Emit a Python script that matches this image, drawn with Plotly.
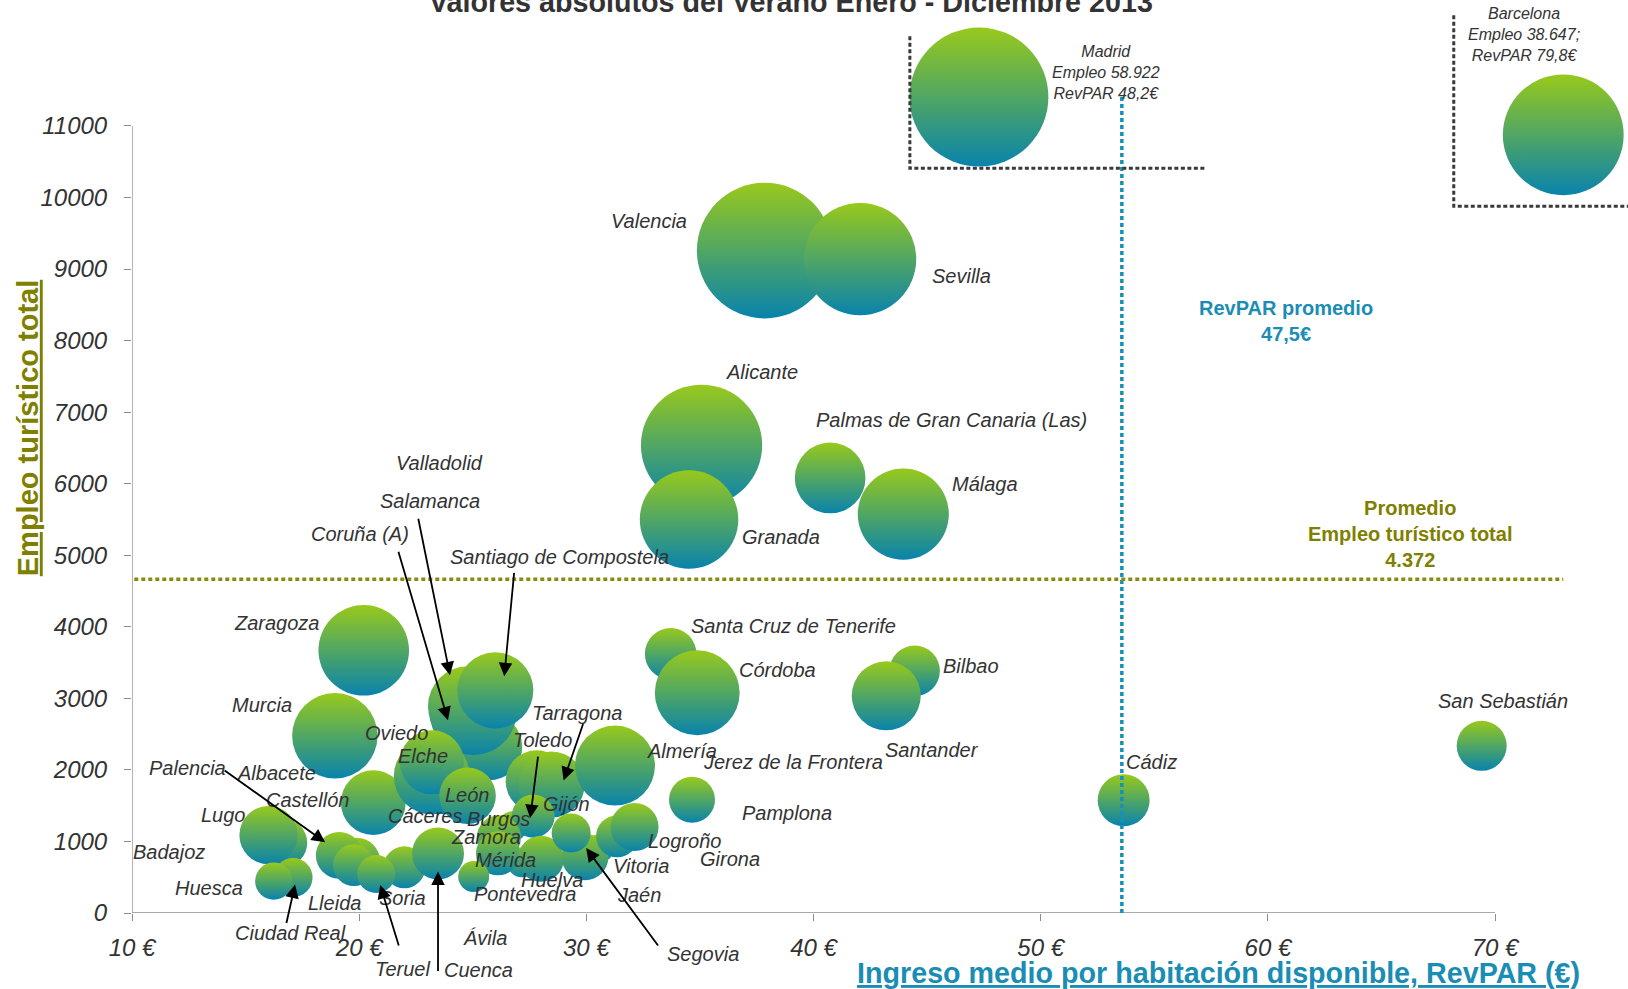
import numpy as np
import plotly.graph_objects as go

# ---------------- DATA (draw order: back to front) ----------------
ciudades = [
    "Madrid", "Barcelona", "Valencia", "Sevilla", "Alicante", "Granada",
    "Palmas de Gran Canaria (Las)", "Málaga", "Bilbao", "Santander",
    "Santa Cruz de Tenerife", "Córdoba", "Zaragoza", "Murcia", "Castellón",
    "Salamanca", "Valladolid", "Coruña (A)", "Santiago de Compostela",
    "Cáceres", "Oviedo", "Elche", "León", "Jerez de la Frontera", "Gijón",
    "Tarragona", "Almería", "Burgos", "Toledo", "Pontevedra", "Zamora",
    "Mérida", "Huelva", "Girona", "Jaén", "Segovia", "Vitoria", "Logroño",
    "Pamplona", "Badajoz", "Lugo", "Ciudad Real", "Huesca", "Albacete",
    "Palencia", "Lleida", "Soria", "Teruel", "Cuenca", "Ávila", "Cádiz",
    "San Sebastián",
]
# RevPAR (EUR) as plotted
revpar = [
    47.28, 73.0, 37.85, 42.05, 35.07, 34.52,
    40.73, 43.95, 44.45, 43.2,
    33.71, 34.88, 20.2, 18.93, 20.62,
    24.79, 25.7, 25.01, 25.99,
    23.78, 23.2, 23.2, 24.77, 31.13, 27.81,
    28.47, 31.26, 26.74, 27.66, 27.17, 26.15,
    26.11, 28.0, 30.6, 29.94, 29.33, 31.35, 32.12,
    34.65, 16.66, 16.01, 17.09, 16.24, 19.89,
    19.12, 19.77, 21.99, 20.75, 23.47, 25.04, 53.65,
    69.41,
]
# Empleo turístico total as plotted
empleo = [
    11404, 10876, 9258, 9139, 6537, 5500,
    6080, 5575, 3385, 3036,
    3623, 3078, 3671, 2477, 1543,
    2889, 2323, 2819, 3112,
    1687, 1911, 2106, 1638, 2022, 1841,
    1796, 2060, 1212, 1354, 709, 1058,
    834, 757, 904, 783, 1117, 1072, 1202,
    1582, 981, 1089, 496, 446, 723,
    806, 669, 639, 544, 832, 509, 1575,
    2337,
]
# relative bubble magnitude (area units)
tamano = [
    193, 146, 184, 126, 147, 97,
    50, 83, 25.5, 47.6,
    26.6, 72, 82, 73, 42,
    64, 45, 77, 58,
    19.4, 58, 41, 32, 36, 38.4,
    43.6, 64, 9, 18.5, 9, 19.4,
    19.4, 21.2, 7.8, 21.8, 15.2, 17.6, 23,
    21.2, 23, 34, 15.2, 13.9, 22,
    21.8, 17.4, 17.6, 14.4, 27, 9.6, 27,
    25,
]

ticks_x = [10, 20, 30, 40, 50, 60, 70]
ticks_x_text = ["10 €", "20 €", "30 €", "40 €", "50 €", "60 €", "70 €"]
ticks_y = list(range(0, 11001, 1000))
ticks_y_text = [str(v) for v in ticks_y]

# reference lines as drawn in the chart
linea_revpar = 53.57
linea_empleo = 4664
texto_revpar = "RevPAR promedio<br>47,5€"
texto_empleo = "Promedio<br>Empleo turístico total<br>4.372"
texto_madrid = "Madrid<br>Empleo 58.922<br>RevPAR 48,2€"
texto_barcelona = "Barcelona<br>Empleo 38.647;<br>RevPAR 79,8€"

# ---------------- STYLE ----------------
FONT = "Liberation Sans, Arial, Helvetica, sans-serif"
TXT = "#333333"
OLIVA = "#808000"
OLIVA_LINEA = "#8A8A10"
AZUL = "#1A8DB5"
AZUL_LINEA = "#1590BA"
VERDE = "#98C91B"
AZUL_BURBUJA = "#0983AC"
EJE = "#8c8c8c"

# label offsets (pixels) from bubble centre: dx, dy (dy positive = down)
etiquetas = {
    "Valencia": (-116, -30), "Sevilla": (101, 17), "Alicante": (60, -73),
    "Granada": (92, 18), "Palmas de Gran Canaria (Las)": (121, -58),
    "Málaga": (82, -30), "Bilbao": (56, -5), "Santander": (46, 54),
    "Santa Cruz de Tenerife": (123, -28), "Córdoba": (80, -23),
    "Zaragoza": (-87, -27), "Murcia": (-73, -31), "Castellón": (-66, -3),
    "Salamanca": (-38, -205), "Valladolid": (-49, -284),
    "Coruña (A)": (-113, -177), "Santiago de Compostela": (64, -133),
    "Cáceres": (-20, 24), "Oviedo": (-35, -43), "Elche": (-9, -6),
    "León": (0, -1), "Jerez de la Frontera": (181, -6), "Gijón": (30, 23),
    "Tarragona": (25, -71), "Almería": (67, -15), "Burgos": (-14, -7),
    "Toledo": (9, -76), "Pontevedra": (3, 32), "Zamora": (-13, 0),
    "Mérida": (8, 7), "Huelva": (11, 21), "Girona": (130, 11),
    "Jaén": (54, 38), "Segovia": (132, 121), "Vitoria": (24, 30),
    "Logroño": (50, 14), "Pamplona": (95, 13), "Badajoz": (-114, 9),
    "Lugo": (-45, -20), "Ciudad Real": (-3, 55), "Huesca": (-65, 7),
    "Albacete": (-80, -88), "Palencia": (-152, -87), "Lleida": (-19, 38),
    "Soria": (-2, 31), "Teruel": (26, 95), "Cuenca": (40, 117),
    "Ávila": (11, 61), "Cádiz": (28, -38), "San Sebastián": (21, -45),
}
# arrows: tip offset from bubble centre (dx, dy) and tail offset from tip (ax, ay)
flechas = {
    "Salamanca": (-18, -31, -32, -158),
    "Coruña (A)": (-25, 9, -50, -170),
    "Santiago de Compostela": (9, -14, 10, -105),
    "Tarragona": (12, -4, 20, -58),
    "Toledo": (-3, 2, 8, -63),
    "Palencia": (-14, -13, -102, -73),
    "Ciudad Real": (2, 7, -9, 40),
    "Teruel": (4, 11, 19, 62),
    "Cuenca": (0, 18, 0, 101),
    "Segovia": (15, 15, 73, 99),
}

diametro = np.sqrt(np.array(tamano, dtype=float)) * 10.0

fig = go.Figure()
fig.add_trace(go.Scatter(
    x=revpar, y=empleo, mode="markers", text=ciudades, hoverinfo="text",
    cliponaxis=False, showlegend=False,
    marker=dict(size=diametro, sizemode="diameter", color=VERDE, opacity=1,
                gradient=dict(type="vertical", color=AZUL_BURBUJA),
                line=dict(width=0)),
))

shapes = []
# axis lines (only up to 70 € and 11000)
shapes.append(dict(type="line", xref="x", yref="y", x0=ticks_x[0], x1=ticks_x[-1],
                   y0=0, y1=0, line=dict(color=EJE, width=1.3), layer="below"))
shapes.append(dict(type="line", xref="x", yref="y", x0=ticks_x[0], x1=ticks_x[0],
                   y0=0, y1=ticks_y[-1], line=dict(color=EJE, width=1.3), layer="below"))
# average lines
i_mad = ciudades.index("Madrid")
i_bcn = ciudades.index("Barcelona")
shapes.append(dict(type="line", xref="x", yref="y", x0=linea_revpar, x1=linea_revpar,
                   y0=0, y1=empleo[i_mad], line=dict(color=AZUL_LINEA, width=3.5, dash="4px,3px")))
shapes.append(dict(type="line", xref="x", yref="y", x0=10.1, x1=73.0,
                   y0=linea_empleo, y1=linea_empleo,
                   line=dict(color=OLIVA_LINEA, width=3.5, dash="4px,3px")))
# inset boxes (Madrid, Barcelona)
caja = dict(color="#3a3a3a", width=3, dash="4px,2.5px")
shapes.append(dict(type="path", xref="x", yref="y",
                   path="M 44.24,12253 L 44.24,10408 L 57.29,10408",
                   line=caja))
shapes.append(dict(type="path", xref="x", yref="y",
                   path="M 68.18,12546 L 68.18,9877 L 76.5,9877",
                   line=caja))

ann = []
# bubble labels
for i, c in enumerate(ciudades):
    if c in etiquetas:
        dx, dy = etiquetas[c]
        ann.append(dict(x=revpar[i], y=empleo[i], xref="x", yref="y", text=c,
                        showarrow=False, xshift=dx, yshift=-dy,
                        xanchor="center", yanchor="middle",
                        font=dict(family=FONT, size=20, color=TXT, style="italic")))
    if c in flechas:
        tdx, tdy, ax, ay = flechas[c]
        ann.append(dict(x=revpar[i], y=empleo[i], xref="x", yref="y", text="",
                        showarrow=True, xshift=tdx, yshift=-tdy, ax=ax, ay=ay,
                        arrowhead=2, arrowsize=1.5, arrowwidth=1.8,
                        arrowcolor="#000000", standoff=0, startstandoff=0))
# Madrid / Barcelona inset texts
ann.append(dict(x=revpar[i_mad], y=empleo[i_mad], xref="x", yref="y", text=texto_madrid,
                showarrow=False, xshift=127, yshift=25, xanchor="center", yanchor="middle",
                font=dict(family=FONT, size=16, color=TXT, style="italic")))
ann.append(dict(x=revpar[i_bcn], y=empleo[i_bcn], xref="x", yref="y", text=texto_barcelona,
                showarrow=False, xshift=-39, yshift=100, xanchor="center", yanchor="middle",
                font=dict(family=FONT, size=16, color=TXT, style="italic")))
# average texts
ann.append(dict(x=60.81, y=8279, xref="x", yref="y", text=texto_revpar, showarrow=False,
                xanchor="center", yanchor="middle",
                font=dict(family=FONT, size=20, color=AZUL, weight="bold")))
ann.append(dict(x=66.24, y=5293, xref="x", yref="y", text=texto_empleo, showarrow=False,
                xanchor="center", yanchor="middle",
                font=dict(family=FONT, size=20, color=OLIVA, weight="bold")))
# axis titles
ann.append(dict(x=-0.0695, y=0.531, xref="paper", yref="paper",
                text="<u>Empleo turístico total</u>", textangle=-90, showarrow=False,
                xanchor="center", yanchor="middle",
                font=dict(family=FONT, size=29, color=OLIVA, weight="bold")))
ann.append(dict(x=0.7266, y=-0.0657, xref="paper", yref="paper",
                text="<u>Ingreso medio por habitación disponible, RevPAR (€)</u>",
                showarrow=False, xanchor="center", yanchor="middle",
                font=dict(family=FONT, size=28.7, color=AZUL, weight="bold")))
# chart title (cut at top)
ann.append(dict(x=0.4405, y=0.9978, xref="paper", yref="paper",
                text="Valores absolutos del Verano Enero - Diciembre 2013",
                showarrow=False, xanchor="center", yanchor="middle",
                font=dict(family=FONT, size=28.7, color="#333333", weight="bold")))

fig.update_layout(
    width=1628, height=989,
    margin=dict(l=132, r=0, t=0, b=76, autoexpand=False),
    paper_bgcolor="white", plot_bgcolor="white", showlegend=False,
    font=dict(family=FONT, color=TXT),
    shapes=shapes, annotations=ann,
    xaxis=dict(range=[10, 75.85], tickmode="array", tickvals=ticks_x, ticktext=ticks_x_text,
               ticks="outside", ticklen=7, tickwidth=1.3, tickcolor=EJE,
               showgrid=False, zeroline=False, showline=False, automargin=False,
               ticklabelstandoff=6,
               tickfont=dict(family=FONT, size=24, color=TXT, style="italic")),
    yaxis=dict(range=[0, 12760], tickmode="array", tickvals=ticks_y, ticktext=ticks_y_text,
               ticks="outside", ticklen=7, tickwidth=1.3, tickcolor=EJE,
               showgrid=False, zeroline=False, showline=False, automargin=False,
               ticklabelstandoff=12,
               tickfont=dict(family=FONT, size=24, color=TXT, style="italic")),
)

fig.write_html("out.html", config={"displayModeBar": False},
               post_script="document.body.style.margin='0px';document.body.style.overflow='hidden';")
